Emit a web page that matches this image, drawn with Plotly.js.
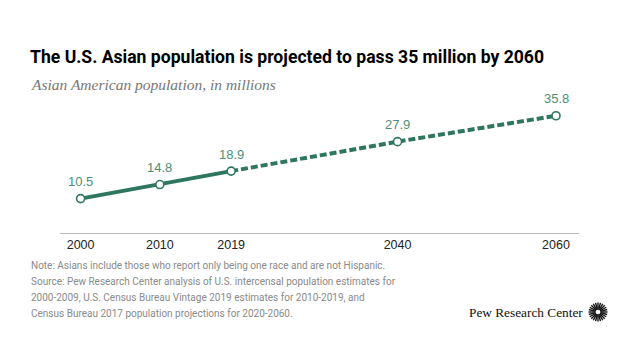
<!DOCTYPE html>
<html>
<head>
<meta charset="utf-8">
<script src="https://cdn.plot.ly/plotly-3.0.1.min.js"></script>
<style>html,body{margin:0;padding:0;background:#fff;}#chart{width:640px;height:360px;}</style>
</head>
<body>
<div id="chart"></div>
<script>
// Data
const yearsActual = [2000, 2010, 2019];
const valuesActual = [10.5, 14.8, 18.9];
const yearsProjected = [2019, 2040, 2060];
const valuesProjected = [18.9, 27.9, 35.8];
const tickYears = [2000, 2010, 2019, 2040, 2060];
const tickLabels = ['2000', '2010', '2019', '2040', '2060'];
const pointYears = [2000, 2010, 2019, 2040, 2060];
const pointValues = [10.5, 14.8, 18.9, 27.9, 35.8];
const pointLabels = ['10.5', '14.8', '18.9', '27.9', '35.8'];

const titleText = 'The U.S. Asian population is projected to pass 35 million by 2060';
const subtitleText = 'Asian American population, in millions';
const noteLines = [
  'Note: Asians include those who report only being one race and are not Hispanic.',
  'Source: Pew Research Center analysis of U.S. intercensal population estimates for',
  '2000-2009, U.S. Census Bureau Vintage 2019 estimates for 2010-2019, and',
  'Census Bureau 2017 population projections for 2020-2060.'
];

const GREEN = '#2e7660';
const LABEL_GREEN = '#4e8f77';
const L = 60, R = 579, T = 102, B = 233, W = 640, H = 360;
const px = x => (x - L) / (R - L);
const py = y => (B - y) / (B - T);

const traces = [
  {x: yearsActual, y: valuesActual, mode: 'lines', line: {color: GREEN, width: 4}, hoverinfo: 'skip'},
  {x: yearsProjected, y: valuesProjected, mode: 'lines', line: {color: GREEN, width: 4, dash: '7px,3px'}, hoverinfo: 'skip'},
  {x: pointYears, y: pointValues, mode: 'markers', marker: {size: 8, color: '#fff', line: {color: GREEN, width: 1.6}}, hoverinfo: 'skip'}
];

const annotations = pointYears.map((yr, i) => ({
  x: yr, y: pointValues[i], xref: 'x', yref: 'y', text: pointLabels[i], showarrow: false,
  yshift: 17, font: {family: 'Liberation Sans, Arial, sans-serif', size: 13, color: LABEL_GREEN}
}));

annotations.push({
  xref: 'paper', yref: 'paper', x: px(29), y: py(85), xanchor: 'left', yanchor: 'middle',
  text: '<i>' + subtitleText + '</i>', showarrow: false,
  font: {family: 'Liberation Serif, DejaVu Serif, serif', size: 15.5, color: '#777'}
});
noteLines.forEach((t, i) => annotations.push({
  xref: 'paper', yref: 'paper', x: px(29), y: py(265 + 16 * i), xanchor: 'left', yanchor: 'middle',
  text: t, showarrow: false,
  font: {family: 'Roboto, Arial, sans-serif', size: 10, color: '#8a8a8a'}
}));
annotations.push({
  xref: 'paper', yref: 'paper', x: px(585), y: py(312), xanchor: 'right', yanchor: 'middle',
  text: 'Pew Research Center', showarrow: false,
  font: {family: 'Liberation Serif, serif', size: 13.3, color: '#111'}
});

// Logo sunburst
const shapes = [];
const cx = 598, cy = 312;
for (let k = 0; k < 24; k++) {
  const a = k * Math.PI / 12;
  const r0 = 2.5, r1 = 9.5;
  shapes.push({type: 'line', xref: 'paper', yref: 'paper',
    x0: px(cx + r0 * Math.cos(a)), y0: py(cy + r0 * Math.sin(a)),
    x1: px(cx + r1 * Math.cos(a)), y1: py(cy + r1 * Math.sin(a)),
    line: {color: '#111', width: 1.4}});
}

const layout = {
  width: W, height: H,
  margin: {l: L, r: W - R, t: T, b: H - B},
  paper_bgcolor: '#fff', plot_bgcolor: '#fff',
  showlegend: false,
  title: {
    text: '<b>' + titleText + '</b>', xref: 'container', yref: 'container',
    x: 30 / W, xanchor: 'left', y: 1 - 57 / H, yanchor: 'middle',
    font: {family: 'Roboto, Arial, sans-serif', size: 17.6, color: '#000'}
  },
  xaxis: {
    range: [1997.4, 2062.9], tickvals: tickYears, ticktext: tickLabels,
    showgrid: false, zeroline: false, showline: true, linecolor: '#bbb', linewidth: 1,
    ticks: '', ticklen: 0, tickfont: {family: 'Liberation Sans, Arial, sans-serif', size: 12.5, color: '#222'}, fixedrange: true
  },
  yaxis: {range: [0, 40], visible: false, showgrid: false, zeroline: false, fixedrange: true},
  annotations: annotations,
  shapes: shapes
};

Plotly.newPlot('chart', traces, layout, {displayModeBar: false, staticPlot: true});
</script>
</body>
</html>
